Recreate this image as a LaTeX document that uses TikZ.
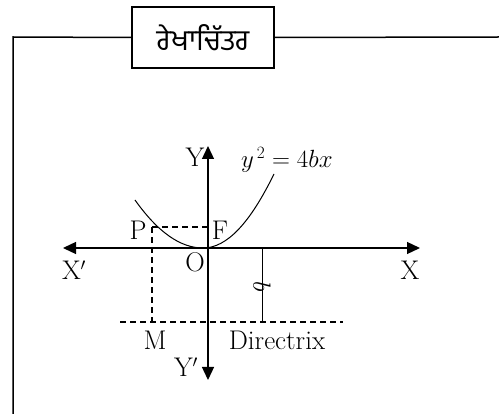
\documentclass[tikz,border=0pt]{standalone}
\usepackage{fontspec}
\newfontfamily\gurfont[Script=Gurmukhi]{Hind Jalandhar}
\usetikzlibrary{arrows.meta}
\begin{document}
\begin{tikzpicture}[x=1pt,y=-1pt,
  lbl/.style={font=\fontsize{27}{32}\selectfont, inner sep=0pt},
  axisline/.style={line width=1.3pt, -{Triangle[length=13pt,width=12pt]}},
  dashline/.style={line width=1.4pt, dash pattern=on 6pt off 4pt},
  frameline/.style={line width=1.5pt}]
\useasboundingbox (0,0) rectangle (499,414);
% frame and title
\node[draw, line width=1.5pt, minimum width=142pt, minimum height=61pt, inner sep=0pt] (title) at (203,37.5) {\gurfont\fontsize{29}{34}\selectfont ਰੇਖਾਚਿੱਤਰ};
\coordinate (fbl) at (13,414);
\coordinate (ftl) at (13,37);
\coordinate (fr) at (499,37);
\draw[frameline] (fbl) -- (ftl) -- (title.west);
\draw[frameline] (title.east) -- (fr);
% axes
\coordinate (O) at (208,248);
\coordinate (xl) at (63,248);
\coordinate (xr) at (420,248);
\coordinate (yt) at (208,146);
\coordinate (yb) at (208,380);
\draw[axisline] (O) -- (xr);
\draw[axisline] (O) -- (xl);
\draw[axisline] (O) -- (yt);
\draw[axisline] (O) -- (yb);
% parabola
\coordinate (pl) at (135,200);
\coordinate (pv) at (203,248);
\coordinate (pr) at (274,174);
\draw[line width=1pt] (pl) .. controls (157.7,232) and (180.3,248) .. (pv)
  .. controls (227,248) and (250,223) .. (pr);
% dashed lines
\coordinate (Pp) at (152,227);
\coordinate (Fp) at (208,227);
\coordinate (Mp) at (152,322);
\coordinate (dl) at (120,322);
\coordinate (dr) at (343,322);
\draw[dashline] (Pp) -- (Fp);
\draw[dashline] (Pp) -- (Mp);
\draw[dashline] (dl) -- (dr);
% b marker
\coordinate (bt) at (262,248);
\coordinate (bb) at (262,322);
\node[lbl, rotate=-90, fill=white, inner sep=1pt] (bl) at (262,287) {$b$};
\draw[line width=0.8pt] (bt) -- (bl.east);
\draw[line width=0.8pt] (bl.west) -- (bb);
% labels
\node[lbl] (Ylab) at (195,157) {Y};
\node[lbl] (Yplab) at (186,367) {Y$'$};
\node[lbl] (Xplab) at (74,270) {X$'$};
\node[lbl] (Xlab) at (410,270) {X};
\node[lbl] (Olab) at (195,262) {O};
\node[lbl] (Flab) at (220,230) {F};
\node[lbl] (Plab) at (138,230) {P};
\node[lbl] (Mlab) at (155,340) {M};
\node[lbl] (Dlab) at (277,340) {Directrix};
\node[lbl, anchor=base west] (eq) at (241,168) {$y^{\,2} = 4bx$};
\end{tikzpicture}
\end{document}
